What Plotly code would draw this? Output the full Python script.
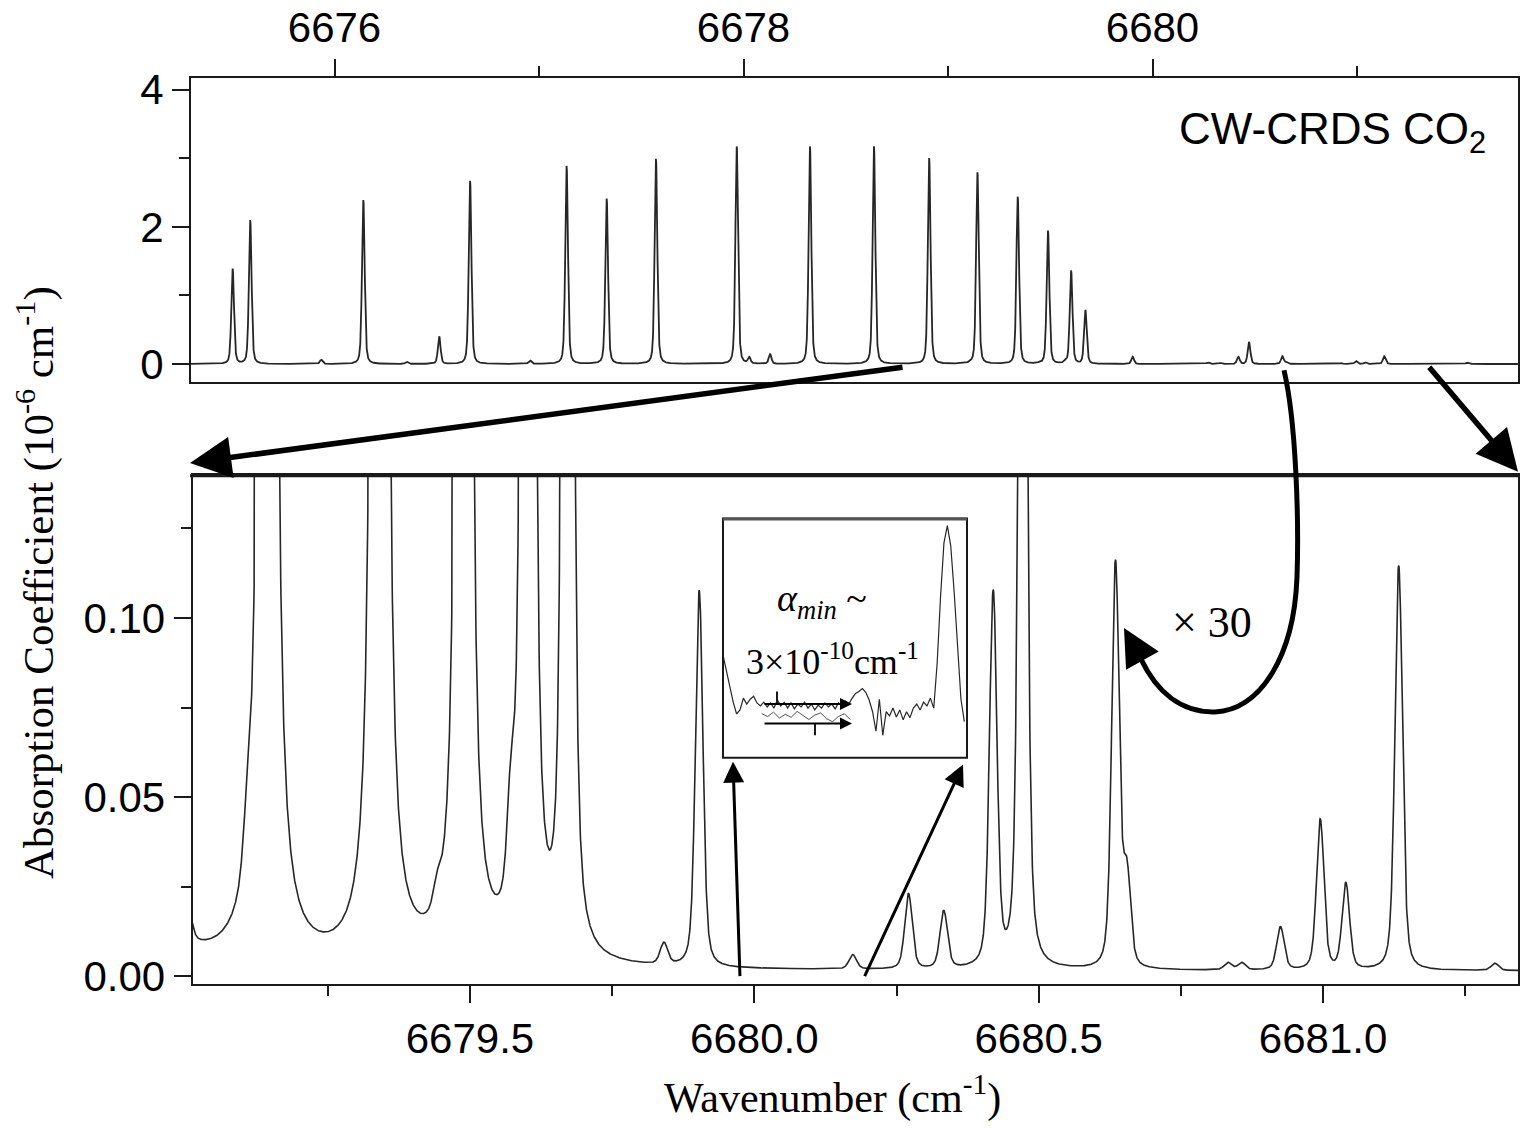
import numpy as np
import plotly.graph_objects as go

# ---------------------------------------------------------------------------
# CO2 absorption lines (centre in cm-1, peak absorption in 1e-6 cm-1)
# ---------------------------------------------------------------------------
line_center = [
    6675.502, 6675.588, 6675.935, 6676.141, 6676.353, 6676.512, 6676.663,
    6676.956, 6677.135, 6677.331, 6677.572, 6677.967, 6678.028, 6678.130,
    6678.325, 6678.638, 6678.908, 6679.005, 6679.108, 6679.144, 6679.341,
    6679.442, 6679.489, 6679.572, 6679.602, 6679.672, 6679.841, 6679.903,
    6680.173, 6680.271, 6680.333, 6680.420, 6680.472, 6680.635, 6680.655,
    6680.833, 6680.857, 6680.925, 6680.995, 6681.040, 6681.133, 6681.302,
    6681.540,
]
line_height = [
    1.386, 2.095, 0.060, 2.390, 0.030, 0.400, 2.670,
    0.050, 2.885, 2.410, 2.990, 3.170, 0.090, 0.140,
    3.170, 3.170, 3.000, 0.0075, 0.012, 2.790, 2.435,
    0.006, 1.940, 0.025, 1.357, 0.780, 0.006, 0.105,
    0.004, 0.021, 0.016, 0.104, 0.320, 0.113, 0.025,
    0.002, 0.002, 0.012, 0.042, 0.024, 0.113, 0.002,
    0.020,
]
GAUSS_HWHM = 0.0062      # Doppler half width (cm-1)
LORENTZ_HWHM = 0.0028    # pressure half width (cm-1)
BASELINE = 0.0015

# noise-floor detail shown in the inset (1e-6 cm-1), evenly sampled
inset_values = [
    0.00279, 0.00236, 0.00194, 0.00151, 0.00119, 0.00130, 0.00162, 0.00146,
    0.00159, 0.00167, 0.00149, 0.00141, 0.00151, 0.00138, 0.00149, 0.00135,
    0.00157, 0.00141, 0.00151, 0.00135, 0.00149, 0.00133, 0.00146, 0.00138,
    0.00151, 0.00135, 0.00146, 0.00130, 0.00143, 0.00135, 0.00149, 0.00138,
    0.00146, 0.00133, 0.00149, 0.00141, 0.00154, 0.00146, 0.00162, 0.00175,
    0.00180, 0.00188, 0.00178, 0.00157, 0.00125, 0.00072, 0.00159, 0.00061,
    0.00125, 0.00114, 0.00135, 0.00111, 0.00130, 0.00103, 0.00125, 0.00109,
    0.00135, 0.00146, 0.00130, 0.00151, 0.00141, 0.00162, 0.00135, 0.00257,
    0.00438, 0.00584, 0.00631, 0.00576, 0.00451, 0.00305, 0.00159, 0.00098,
]
inset_span = (6679.975, 6680.1932)
inset_band = [
    0.00120, 0.00112, 0.00124, 0.00108, 0.00118, 0.00110, 0.00126, 0.00114,
    0.00104, 0.00116, 0.00122, 0.00106, 0.00098, 0.00112, 0.00120, 0.00104,
]
inset_band_span = (6680.0100, 6680.0900)

top_xrange = [6675.2983, 6681.7873]
top_yrange = [-0.26, 4.173]
bot_xrange = [6679.0124, 6681.3428]
bot_yrange = [-0.00207, 0.1398]


def faddeeva_real(x, y):
    """Real part of the Faddeeva function (Humlicek W4 approximation)."""
    y = np.full_like(x, y)
    t = y - 1j * x
    s = np.abs(x) + y
    u = t * t
    w = np.empty_like(t)
    r1 = s >= 15.0
    w[r1] = t[r1] * 0.5641896 / (0.5 + u[r1])
    r2 = (s >= 5.5) & (s < 15.0)
    tt, uu = t[r2], u[r2]
    w[r2] = tt * (1.410474 + uu * 0.5641896) / (0.75 + uu * (3.0 + uu))
    r3 = (s < 5.5) & (y >= 0.195 * np.abs(x) - 0.176)
    tt = t[r3]
    w[r3] = (16.4955 + tt * (20.20933 + tt * (11.96482 + tt * (3.778987 + tt * 0.5642236)))) / (
        16.4955 + tt * (38.82363 + tt * (39.27121 + tt * (21.69274 + tt * (6.699398 + tt)))))
    r4 = ~(r1 | r2 | r3)
    tt, uu = t[r4], u[r4]
    w[r4] = np.exp(uu) - tt * (36183.31 - uu * (3321.9905 - uu * (1540.787 - uu * (219.0313 - uu * (
        35.76683 - uu * (1.320522 - uu * 0.56419)))))) / (32066.6 - uu * (24322.84 - uu * (
            9022.228 - uu * (2186.181 - uu * (364.2191 - uu * (61.57037 - uu * (1.841439 - uu)))))))
    return w.real


def spectrum(nu):
    sigma = GAUSS_HWHM / np.sqrt(2 * np.log(2))
    yv = LORENTZ_HWHM / (sigma * np.sqrt(2))
    peak = faddeeva_real(np.array([0.0]), yv)[0]
    total = np.full_like(nu, BASELINE)
    for c, h in zip(line_center, line_height):
        xv = (nu - c) / (sigma * np.sqrt(2))
        total += h * faddeeva_real(xv, yv) / peak
    return total


nu_top = np.arange(top_xrange[0], top_xrange[1], 0.0005)
nu_bot = np.arange(bot_xrange[0] - 0.002, bot_xrange[1] + 0.002, 0.0004)
alpha_top = spectrum(nu_top)
alpha_bot = spectrum(nu_bot)

inset_nu = np.linspace(inset_span[0], inset_span[1], len(inset_values))
band_nu = np.linspace(inset_band_span[0], inset_band_span[1], len(inset_band))

# ---------------------------------------------------------------------------
W, H = 1520, 1132


def px(x):
    return x / W


def py(y):
    return 1 - y / H


SANS = "Liberation Sans, Arial, sans-serif"
SERIF = "Liberation Serif, Times New Roman, serif"
INK = "#1a1a1a"
TRACE = "#262626"

fig = go.Figure()
fig.add_trace(go.Scatter(x=nu_top, y=alpha_top, mode="lines", xaxis="x", yaxis="y",
                         line=dict(color=TRACE, width=1.8), hoverinfo="skip"))
fig.add_trace(go.Scatter(x=nu_bot, y=alpha_bot, mode="lines", xaxis="x2", yaxis="y2",
                         line=dict(color=TRACE, width=1.6), hoverinfo="skip"))
fig.add_trace(go.Scatter(x=inset_nu, y=inset_values, mode="lines", xaxis="x3", yaxis="y3",
                         line=dict(color=TRACE, width=1.2), hoverinfo="skip"))
fig.add_trace(go.Scatter(x=band_nu, y=inset_band, mode="lines", xaxis="x3", yaxis="y3",
                         line=dict(color=TRACE, width=0.8), hoverinfo="skip"))

tickfont = dict(family=SANS, size=42, color="black")
axis_common = dict(showgrid=False, zeroline=False, showline=True, linecolor=INK, linewidth=2.2,
                   mirror=True, ticks="outside", tickcolor=INK, tickwidth=2, ticklen=17,
                   tickfont=tickfont)
minor_common = dict(ticklen=10, tickwidth=2, tickcolor=INK, ticks="outside")

fig.update_layout(
    width=W, height=H, margin=dict(l=0, r=0, t=0, b=0),
    paper_bgcolor="white", plot_bgcolor="white", showlegend=False,
    xaxis=dict(axis_common, domain=[px(191), px(1518)], anchor="y", side="top",
               range=top_xrange, tick0=6676, dtick=2,
               minor=dict(minor_common, dtick=1, tick0=6676)),
    yaxis=dict(axis_common, domain=[py(380), py(68.3)], anchor="x", range=top_yrange,
               tick0=0, dtick=2, minor=dict(minor_common, dtick=1, tick0=0)),
    xaxis2=dict(axis_common, domain=[px(192.7), px(1518)], anchor="y2", range=bot_xrange,
                tick0=6679.5, dtick=0.5, tickformat=".1f",
                minor=dict(minor_common, dtick=0.25, tick0=6679.5)),
    yaxis2=dict(axis_common, domain=[py(996.6), py(475.8)], anchor="x2", range=bot_yrange,
                tick0=0, dtick=0.05, tickformat=".2f",
                minor=dict(minor_common, dtick=0.025, tick0=0)),
    xaxis3=dict(domain=[px(723), px(967)], anchor="y3", range=[inset_span[0], 6680.1956], visible=False),
    yaxis3=dict(domain=[py(765), py(520)], anchor="x3", range=[0, 0.0065], visible=False),
)

shapes = [
    # inset frame
    dict(type="rect", xref="paper", yref="paper", x0=px(723), x1=px(967), y0=py(765), y1=py(520),
         line=dict(color=INK, width=2), fillcolor="rgba(0,0,0,0)", layer="above"),
    dict(type="line", xref="paper", yref="paper", x0=px(723), x1=px(967), y0=py(520.5), y1=py(520.5),
         line=dict(color="#555555", width=3)),
    # heavier upper frame of the magnified panel
    dict(type="line", xref="paper", yref="paper", x0=px(190), x1=px(1519), y0=py(476), y1=py(476),
         line=dict(color=INK, width=3)),
    # curved pointer from the weak lines to the magnified view
    dict(type="path", xref="paper", yref="paper",
         path=("M {:.5f},{:.5f} C {:.5f},{:.5f} {:.5f},{:.5f} {:.5f},{:.5f} "
               "C {:.5f},{:.5f} {:.5f},{:.5f} {:.5f},{:.5f} "
               "C {:.5f},{:.5f} {:.5f},{:.5f} {:.5f},{:.5f}").format(
             px(1284), py(368), px(1296), py(420), px(1299), py(520), px(1297), py(580),
             px(1294), py(662), px(1260), py(716), px(1215), py(718),
             px(1180), py(719), px(1156), py(696), px(1141), py(664)),
         line=dict(color="black", width=5)),
    # small markers on the noise band
    dict(type="line", xref="paper", yref="paper", x0=px(777), x1=px(777), y0=py(697), y1=py(710),
         line=dict(color=INK, width=2)),
    dict(type="line", xref="paper", yref="paper", x0=px(815), x1=px(815), y0=py(730), y1=py(742),
         line=dict(color=INK, width=2)),
]
fig.update_layout(shapes=shapes)


def arrow(tip, tail, width, size=1.0):
    return dict(xref="paper", yref="paper", x=px(tip[0]), y=py(tip[1]),
                ax=tail[0] - tip[0], ay=tail[1] - tip[1], text="", showarrow=True,
                arrowhead=2, arrowsize=size, arrowwidth=width, arrowcolor="black", standoff=0)


annotations = [
    arrow((190, 463), (904, 367), 5.5, 1.5),
    arrow((1518, 472), (1428, 366), 5.5, 1.5),
    arrow((1124, 632), (1142, 664), 5, 1.5),
    arrow((733, 769), (740, 985), 3, 1.4),
    arrow((963, 772), (864, 985), 3, 1.4),
    arrow((852, 710), (763, 710), 2, 1.2),
    arrow((852, 730), (763, 730), 2, 1.2),
    dict(xref="paper", yref="paper", x=px(1488), y=py(124), xanchor="right", yanchor="middle",
         text="CW-CRDS CO<sub>2</sub>", showarrow=False,
         font=dict(family=SANS, size=44, color="black")),
    dict(xref="paper", yref="paper", x=px(35), y=py(586), xanchor="center", yanchor="middle",
         text="Absorption Coefficient (10<sup>-6</sup> cm<sup>-1</sup>)", showarrow=False,
         textangle=-90, font=dict(family=SERIF, size=43, color="black")),
    dict(xref="paper", yref="paper", x=px(832), y=py(1110), xanchor="center", yanchor="middle",
         text="Wavenumber (cm<sup>-1</sup>)", showarrow=False,
         font=dict(family=SERIF, size=42, color="black")),
    dict(xref="paper", yref="paper", x=px(822), y=py(604), xanchor="center", yanchor="middle",
         text="<i>α</i><sub><i>min</i></sub> ~", showarrow=False,
         font=dict(family=SERIF, size=38, color="black")),
    dict(xref="paper", yref="paper", x=px(832), y=py(664), xanchor="center", yanchor="middle",
         text="3×10<sup>-10</sup>cm<sup>-1</sup>", showarrow=False,
         font=dict(family=SERIF, size=36, color="black")),
    dict(xref="paper", yref="paper", x=px(1212), y=py(626), xanchor="center", yanchor="middle",
         text="× 30", showarrow=False,
         font=dict(family=SERIF, size=44, color="black")),
]
fig.update_layout(annotations=annotations)

fig.write_html("out.html")
